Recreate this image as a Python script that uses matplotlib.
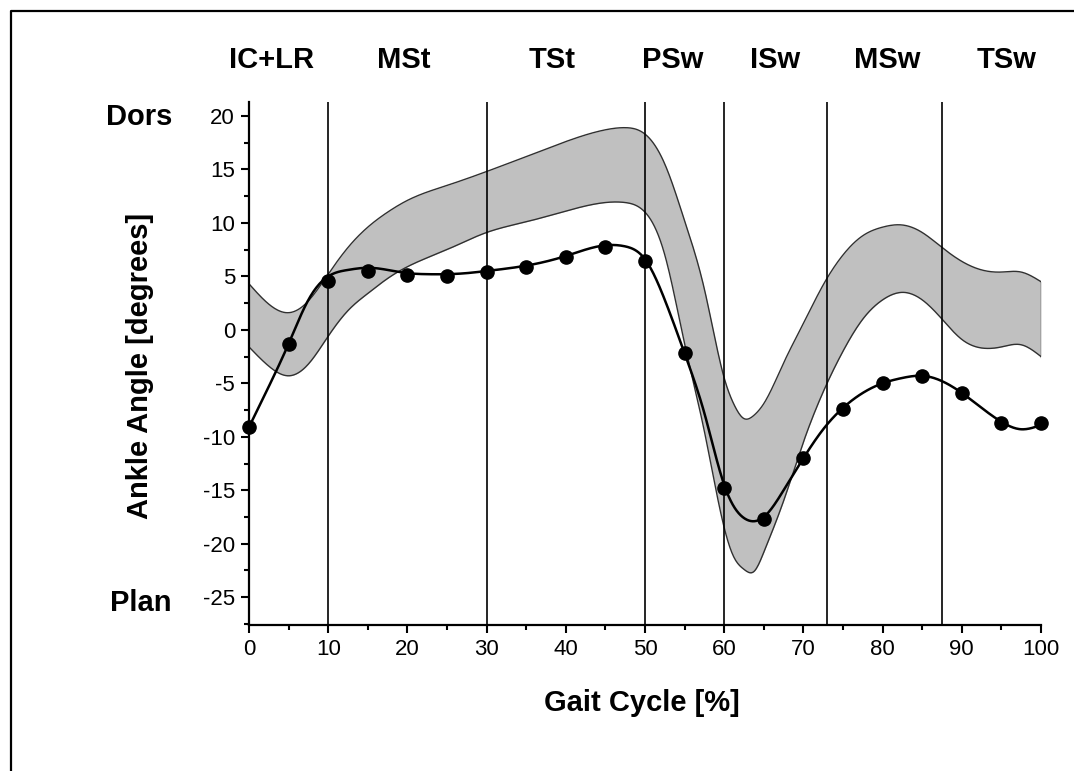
import numpy as np
import matplotlib
matplotlib.use("Agg")
import matplotlib.pyplot as plt
from matplotlib.lines import Line2D
from matplotlib.ticker import MultipleLocator

plt.rcParams['font.family'] = ['Liberation Sans', 'DejaVu Sans']

# ---- data ----
band_x = [0, 2.5, 5, 7.5, 10, 12.5, 15, 17.5, 20, 25, 30, 35, 40, 45, 47.5, 50,
          52.5, 55, 57.5, 60, 61.25, 62.5, 63.75, 65, 67.5, 70, 72.5, 75, 77.5,
          80, 82.5, 85, 87.5, 90, 92.5, 95, 97.5, 100]
band_upper = [4.3, 2.4, 1.6, 2.7, 5.2, 7.7, 9.6, 11.0, 12.1, 13.5, 14.8, 16.2, 17.6,
              18.7, 18.9, 18.3, 15.5, 10.2, 3.8, -4.5, -7.0, -8.3, -8.0, -6.9, -3.1,
              0.6, 4.2, 7.0, 8.8, 9.6, 9.8, 9.1, 7.7, 6.4, 5.6, 5.4, 5.4, 4.5]
band_lower = [-1.6, -3.4, -4.3, -3.2, -0.6, 1.8, 3.4, 4.8, 5.9, 7.5, 9.1, 10.1, 11.1,
              11.9, 11.9, 11.0, 7.0, -1.3, -9.5, -18.5, -21.3, -22.4, -22.6, -20.8,
              -16.0, -10.5, -5.8, -2.0, 1.0, 2.8, 3.5, 2.8, 1.0, -0.9, -1.7, -1.6,
              -1.4, -2.5]

curve_x = [0, 2.5, 5, 7.5, 10, 12.5, 15, 17.5, 20, 22.5, 25, 27.5, 30, 35, 40, 45,
           47.5, 50, 52.5, 55, 57.5, 60, 62.5, 63.75, 65, 67.5, 70, 72.5, 75, 77.5,
           80, 82.5, 85, 87.5, 90, 92.5, 95, 97.5, 100]
curve_y = [-9.1, -5.3, -1.3, 2.8, 5.0, 5.6, 5.8, 5.6, 5.3, 5.2, 5.2, 5.3, 5.5, 6.0,
           6.9, 7.9, 7.8, 6.6, 2.8, -2.2, -7.8, -14.5, -17.6, -17.9, -17.5, -15.0,
           -12.0, -9.3, -7.3, -5.9, -5.0, -4.5, -4.3, -4.8, -5.9, -7.3, -8.6, -9.3,
           -8.9]

dot_x = [0, 5, 10, 15, 20, 25, 30, 35, 40, 45, 50, 55, 60, 65, 70, 75, 80, 85, 90, 95, 100]
dot_y = [-9.1, -1.3, 4.6, 5.5, 5.1, 5.0, 5.4, 5.9, 6.8, 7.7, 6.4, -2.2, -14.8, -17.7,
         -12.0, -7.4, -5.0, -4.3, -5.9, -8.7, -8.7]

phase_labels = ["IC+LR", "MSt", "TSt", "PSw", "ISw", "MSw", "TSw"]
phase_pos = [2.8, 19.5, 38.3, 53.5, 66.4, 80.6, 95.6]
phase_bounds = [10, 30, 50, 60, 73, 87.5]

y_ticks = [20, 15, 10, 5, 0, -5, -10, -15, -20, -25]
x_ticks = [0, 10, 20, 30, 40, 50, 60, 70, 80, 90, 100]


def natural_spline(x, y, n=800):
    x = np.asarray(x, float)
    y = np.asarray(y, float)
    m = len(x)
    h = np.diff(x)
    A = np.zeros((m, m))
    r = np.zeros(m)
    A[0, 0] = A[-1, -1] = 1.0
    for i in range(1, m - 1):
        A[i, i - 1] = h[i - 1]
        A[i, i] = 2 * (h[i - 1] + h[i])
        A[i, i + 1] = h[i]
        r[i] = 6 * ((y[i + 1] - y[i]) / h[i] - (y[i] - y[i - 1]) / h[i - 1])
    M = np.linalg.solve(A, r)
    xs = np.linspace(x[0], x[-1], n)
    idx = np.clip(np.searchsorted(x, xs) - 1, 0, m - 2)
    x0, x1 = x[idx], x[idx + 1]
    hh = x1 - x0
    t0 = x1 - xs
    t1 = xs - x0
    ys = (M[idx] * t0 ** 3 / (6 * hh) + M[idx + 1] * t1 ** 3 / (6 * hh)
          + (y[idx] / hh - M[idx] * hh / 6) * t0 + (y[idx + 1] / hh - M[idx + 1] * hh / 6) * t1)
    return xs, ys


W, H = 1074, 771
fig = plt.figure(figsize=(W / 100, H / 100), dpi=100)
ax = fig.add_axes([249 / W, 146 / H, 792 / W, 523 / H])

bx, bu = natural_spline(band_x, band_upper)
_, bl = natural_spline(band_x, band_lower)
ax.fill_between(bx, bl, bu, color='#c0c0c0', lw=0, zorder=1)
ax.plot(bx, bu, color='#303030', lw=1.0, zorder=2)
ax.plot(bx, bl, color='#303030', lw=1.0, zorder=2)
ax.plot([bx[-1], bx[-1]], [bl[-1], bu[-1]], color='#303030', lw=1.0, zorder=2)

for b in phase_bounds:
    ax.axvline(b, color='black', lw=1.2, zorder=3)

cx, cy = natural_spline(curve_x, curve_y)
ax.plot(cx, cy, color='black', lw=1.8, zorder=4)
ax.plot(dot_x, dot_y, 'o', color='black', ms=9.5, zorder=5, clip_on=False)

ax.set_xlim(0, 100)
ax.set_ylim(-27.6, 21.3)
for s in ['top', 'right']:
    ax.spines[s].set_visible(False)
for s in ['left', 'bottom']:
    ax.spines[s].set_linewidth(1.6)

ax.set_xticks(x_ticks)
ax.set_yticks(y_ticks)
ax.set_yticklabels([str(v) for v in y_ticks])
ax.xaxis.set_minor_locator(MultipleLocator(5))
ax.yaxis.set_minor_locator(MultipleLocator(2.5))
ax.tick_params(which='major', direction='out', length=6, width=1.5, labelsize=16, pad=4)
ax.tick_params(which='minor', direction='out', length=3.5, width=1.5)

for lab, p in zip(phase_labels, phase_pos):
    ax.text(p, 25.2, lab, ha='center', va='center', fontsize=21, fontweight='bold',
            clip_on=False)

fig.text(172 / W, 1 - 117 / H, "Dors", ha='right', va='center', fontsize=21, fontweight='bold')
fig.text(172 / W, 1 - 603 / H, "Plan", ha='right', va='center', fontsize=21, fontweight='bold')
fig.text(140 / W, 1 - 366 / H, "Ankle Angle [degrees]", ha='center', va='center',
         rotation=90, fontsize=21, fontweight='bold')
fig.text(642 / W, 1 - 703 / H, "Gait Cycle [%]", ha='center', va='center',
         fontsize=21, fontweight='bold')

fig.add_artist(Line2D([10.5 / W, 10.5 / W, 1.0], [0.0, 1 - 10.5 / H, 1 - 10.5 / H],
                      transform=fig.transFigure, color='black', lw=1.6))

fig.savefig("out.png", dpi=100)
